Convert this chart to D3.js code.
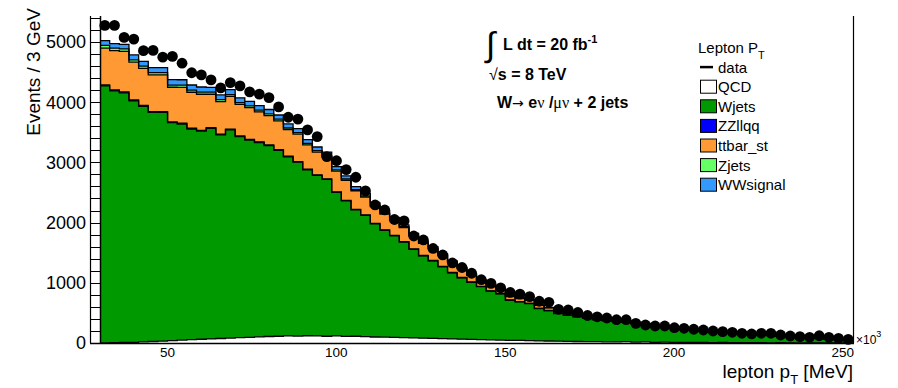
<!DOCTYPE html>
<html>
<head>
<meta charset="utf-8">
<script src="https://cdn.jsdelivr.net/npm/d3@7"></script>
<style>
  body { margin: 0; background: #fff; }
  svg { display: block; }
  text { font-family: "Liberation Sans", Arial, Helvetica, sans-serif; fill: #000; }
</style>
</head>
<body>
<svg id="chart" width="898" height="388"></svg>
<script>
// Binning of the lepton pT histogram (x10^3 MeV)
const xLow = 30, xHigh = 253, nBins = 78;

// Axis ticks
const yLabelTicks = [0, 1000, 2000, 3000, 4000, 5000];
const xLabelTicks = [50, 100, 150, 200, 250];

// Observed events per bin
const dataCounts = [5274,5274,5075,5047,4855,4859,4746,4759,4646,4488,
  4452,4369,4236,4324,4269,4169,4133,4075,3920,3749,
  3718,3538,3427,3095,3027,2879,2752,2525,2292,2209,
  2051,2027,1777,1711,1570,1462,1329,1254,1158,1051,
  991,917,839,811,769,693,676,560,548,507,
  457,435,415,387,387,327,299,282,282,254,
  244,228,216,199,188,178,161,150,161,161,
  133,116,105,95,120,95,78,61];

// Simulated backgrounds and signal, stacked bottom to top
const qcd = [3,5,8,12,18,25,32,40,48,55,
  62,68,75,82,88,95,102,108,112,118,
  115,120,118,112,118,110,112,105,100,98,
  92,90,85,80,76,72,68,64,60,56,
  52,48,45,42,38,35,33,30,28,25,
  24,22,20,18,22,15,18,12,14,10,
  12,8,10,6,8,5,6,4,5,3,
  4,2,3,2,2,1,1,1];
const wjets = [4268,4183,4146,4011,3913,3804,3798,3618,3589,3499,
  3456,3495,3381,3458,3340,3275,3227,3171,3089,2974,
  2887,2756,2665,2604,2382,2249,2099,2014,1878,1772,
  1688,1587,1470,1367,1289,1194,1098,1019,948,879,
  808,770,665,640,618,538,504,460,434,409,
  384,366,352,345,325,307,279,277,250,233,
  228,207,188,184,165,155,143,133,127,121,
  106,105,92,81,76,65,57,49];
const zzllqq = [15,15,15,14,14,14,13,13,13,12,
  12,12,11,11,11,10,10,10,10,9,
  9,9,8,8,8,8,7,7,7,7,
  6,6,6,6,5,5,5,5,5,4,
  4,4,4,4,3,3,3,3,3,3,
  2,2,2,2,2,2,2,2,2,1,
  1,1,1,1,1,1,1,1,1,1,
  1,1,0,0,0,0,0,0];
const ttbar = [610,653,675,626,615,610,610,576,595,598,
  601,556,540,543,523,527,498,487,477,442,
  457,404,380,365,345,335,310,295,280,265,
  250,232,215,200,195,180,165,145,110,90,
  85,70,58,52,50,48,42,35,32,30,
  25,22,20,18,16,14,12,11,10,9,
  8,7,6,6,5,5,4,4,3,3,
  3,2,2,2,2,1,1,1];
const zjets = [45,40,40,40,38,38,38,36,36,35,
  35,34,33,32,31,30,30,29,28,27,
  26,25,24,23,22,21,20,19,18,17,
  16,15,14,13,12,11,10,9,8,8,
  7,7,6,6,5,5,5,4,4,4,
  3,3,3,3,2,2,2,2,2,2,
  2,1,1,1,1,1,1,1,1,1,
  1,1,1,1,0,0,0,0];
const wwsignal = [80,75,75,80,80,82,82,90,90,85,
  85,80,80,80,78,76,74,72,70,68,
  66,62,60,58,55,52,48,45,42,38,
  35,32,28,25,22,19,16,14,12,10,
  9,8,7,6,5,4,4,3,3,2,
  2,2,1,1,1,1,1,1,1,1,
  1,1,1,1,1,1,0,0,0,0,
  0,0,0,0,0,0,0,0];

const seriesNames = ["QCD", "Wjets", "ZZllqq", "ttbar_st", "Zjets", "WWsignal"];
const seriesValues = [qcd, wjets, zzllqq, ttbar, zjets, wwsignal];
const seriesColors = ["#ffffff", "#009900", "#0000ff", "#ff9933", "#66ff66", "#3399ff"];

// Frame of the plot pad
const frame = { left: 100, right: 853, top: 16, bottom: 343 };

const svg = d3.select("#chart");
const x = d3.scaleLinear().domain([xLow, xHigh]).range([frame.left, frame.right]);
const y = d3.scaleLinear().domain([0, 5430]).range([frame.bottom, frame.top]);

const binWidth = (xHigh - xLow) / nBins;
const rows = d3.range(nBins).map(i => {
  const r = { lo: xLow + i * binWidth, hi: xLow + (i + 1) * binWidth };
  seriesNames.forEach((k, j) => { r[k] = seriesValues[j][i]; });
  r.data = dataCounts[i];
  return r;
});

const stacked = d3.stack().keys(seriesNames)(rows);

// Expand each layer into step points (left and right edge of every bin)
function steps(layer) {
  const pts = [];
  layer.forEach(d => {
    pts.push({ x: d.data.lo, y0: d[0], y1: d[1] });
    pts.push({ x: d.data.hi, y0: d[0], y1: d[1] });
  });
  return pts;
}

const area = d3.area().x(d => x(d.x)).y0(d => y(d.y0)).y1(d => y(d.y1));
const topLine = d3.line().x(d => x(d.x)).y(d => y(d.y1));

const gStack = svg.append("g");
stacked.forEach((layer, j) => {
  gStack.append("path")
    .attr("d", area(steps(layer)))
    .attr("fill", seriesColors[j])
    .attr("stroke", "none");
});
stacked.forEach((layer, j) => {
  gStack.append("path")
    .attr("d", topLine(steps(layer)))
    .attr("fill", "none")
    .attr("stroke", "#000")
    .attr("stroke-width", 1.3);
});

// Data points with statistical error bars
const gData = svg.append("g");
gData.selectAll("line").data(rows).join("line")
  .attr("x1", d => x((d.lo + d.hi) / 2)).attr("x2", d => x((d.lo + d.hi) / 2))
  .attr("y1", d => y(d.data + Math.sqrt(d.data))).attr("y2", d => y(d.data - Math.sqrt(d.data)))
  .attr("stroke", "#000").attr("stroke-width", 1);
gData.selectAll("circle").data(rows).join("circle")
  .attr("cx", d => x((d.lo + d.hi) / 2))
  .attr("cy", d => y(d.data))
  .attr("r", 5.4)
  .attr("fill", "#000");

// Axes
const gAxes = svg.append("g").attr("stroke", "#000").attr("fill", "none");
const ladderX = frame.left - 10;
gAxes.append("line").attr("x1", frame.left + 0.5).attr("x2", frame.left + 0.5)
  .attr("y1", frame.top).attr("y2", frame.bottom).attr("stroke-width", 1.5);
gAxes.append("line").attr("x1", ladderX + 0.5).attr("x2", ladderX + 0.5)
  .attr("y1", frame.top).attr("y2", frame.bottom).attr("stroke-width", 1.2);
gAxes.append("line").attr("x1", frame.right + 0.5).attr("x2", frame.right + 0.5)
  .attr("y1", frame.top).attr("y2", frame.bottom).attr("stroke-width", 1.2);
gAxes.append("line").attr("x1", ladderX).attr("x2", frame.right + 1)
  .attr("y1", frame.bottom + 0.5).attr("y2", frame.bottom + 0.5).attr("stroke-width", 1.5);

const minorY = d3.range(0, 5430, 200);
gAxes.selectAll(".ytick").data(minorY).join("line")
  .attr("x1", ladderX).attr("x2", frame.left)
  .attr("y1", d => Math.round(y(d)) + 0.5).attr("y2", d => Math.round(y(d)) + 0.5)
  .attr("stroke-width", 1);

const gText = svg.append("g");
gText.selectAll(".ylab").data(yLabelTicks).join("text")
  .attr("x", 86).attr("y", d => y(d)).attr("dy", "0.36em")
  .attr("text-anchor", "end").attr("font-size", 18)
  .text(d => d);

gText.selectAll(".xlab").data(xLabelTicks).join("text")
  .attr("x", d => x(d)).attr("y", 357)
  .attr("text-anchor", "middle").attr("font-size", 13.5)
  .text(d => d);

// Exponent of the x axis
const expo = gText.append("text").attr("x", 856).attr("y", 344).attr("font-size", 12);
expo.append("tspan").text("\u00d710");
expo.append("tspan").attr("dy", -7).attr("font-size", 9).text("3");

// Axis titles
const xt = gText.append("text").attr("x", frame.right).attr("y", 378)
  .attr("text-anchor", "end").attr("font-size", 19);
xt.append("tspan").text("lepton p");
xt.append("tspan").attr("dy", 6).attr("font-size", 13).text("T");
xt.append("tspan").attr("dy", -6).text(" [MeV]");

gText.append("text").attr("transform", "translate(40,8) rotate(-90)")
  .attr("text-anchor", "end").attr("font-size", 19)
  .text("Events / 3 GeV");

// Luminosity and selection labels
gText.append("text").attr("x", 486).attr("y", 56).attr("font-size", 34)
  .attr("font-family", "DejaVu Serif").text("\u222b");
const lumi = gText.append("text").attr("x", 503).attr("y", 50)
  .attr("font-size", 16).attr("font-weight", "bold");
lumi.append("tspan").text("L dt = 20 fb");
lumi.append("tspan").attr("dy", -7).attr("font-size", 11).text("-1");

const rs = gText.append("text").attr("x", 489).attr("y", 80).attr("font-size", 16).attr("font-weight", "bold");
rs.append("tspan").attr("font-weight", "normal").text("\u221a");
rs.append("tspan").text("s = 8 TeV");

const chan = gText.append("text").attr("x", 497).attr("y", 108).attr("font-size", 16).attr("font-weight", "bold");
chan.append("tspan").text("W");
chan.append("tspan").attr("font-weight", "normal").attr("font-family", "DejaVu Sans").attr("font-size", 14).text("\u2192 ");
chan.append("tspan").text("e");
chan.append("tspan").attr("font-weight", "normal").attr("font-family", "Liberation Serif").text("\u03bd");
chan.append("tspan").text(" /");
chan.append("tspan").attr("font-weight", "normal").attr("font-family", "Liberation Serif").text("\u03bc\u03bd");
chan.append("tspan").text(" + 2 jets");

// Legend
const legX = 700, legY0 = 47.5, legStep = 19.6;
const lt = gText.append("text").attr("x", 698).attr("y", legY0 + 5.5).attr("font-size", 15);
lt.append("tspan").text("Lepton P");
lt.append("tspan").attr("dy", 6).attr("font-size", 11).text("T");

const dataY = legY0 + legStep;
svg.append("line").attr("x1", legX).attr("x2", legX + 13)
  .attr("y1", dataY).attr("y2", dataY).attr("stroke", "#000").attr("stroke-width", 2.5);
gText.append("text").attr("x", 718).attr("y", dataY + 5.5).attr("font-size", 15).text("data");

seriesNames.forEach((name, j) => {
  const cy = legY0 + legStep * (j + 2);
  svg.append("rect").attr("x", legX + 0.5).attr("y", cy - 6.5).attr("width", 16).attr("height", 13)
    .attr("fill", seriesColors[j]).attr("stroke", "#000").attr("stroke-width", 1);
  gText.append("text").attr("x", 718).attr("y", cy + 5.5).attr("font-size", 15).text(name);
});
</script>
</body>
</html>
